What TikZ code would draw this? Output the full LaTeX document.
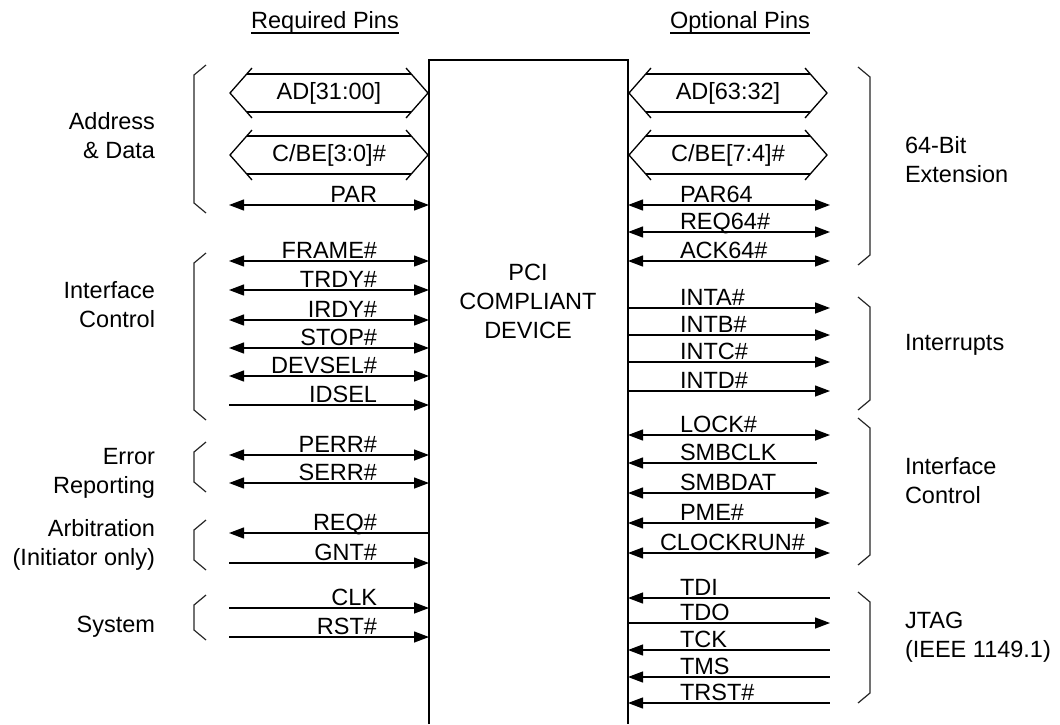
\documentclass[tikz,border=0pt]{standalone}
\usepackage{fontspec}
\setmainfont{Liberation Sans}
\usetikzlibrary{arrows.meta}
\tikzset{
  sig/.style={line width=0.65pt, draw=black},
  tipA/.tip={Triangle[length=7.5pt,width=5.5pt]},
  both/.style={sig, tipA-tipA},
  toR/.style={sig, -tipA},
  toL/.style={sig, tipA-},
  lbl/.style={inner sep=0pt, outer sep=0pt},
  grp/.style={inner sep=0pt, outer sep=0pt},
  brk/.style={line width=0.6pt, draw=black!85},
}
\newcommand\pcibus[5]{%
  \coordinate (#1a) at (#2,#4);
  \coordinate (#1b) at (#3,#4);
  \draw[sig] ([shift={(22,-25)}]#1a) -- (#1a) -- ([shift={(22,25)}]#1a);
  \draw[sig] ([shift={(-22,-25)}]#1b) -- (#1b) -- ([shift={(-22,25)}]#1b);
  \draw[sig] ([shift={(17,-19)}]#1a) -- ([shift={(-17,-19)}]#1b);
  \draw[sig] ([shift={(17,19)}]#1a) -- ([shift={(-17,19)}]#1b);
  \node[lbl] (#1t) at ({(#2+#3)/2},#4) {#5};
}
\newcommand\lbrk[3]{%
  \coordinate (#1t) at (206,#2);
  \coordinate (#1b) at (206,#3);
  \draw[brk] (#1t) -- ++(-12,10) -- ([shift={(-12,-10)}]#1b) -- (#1b);
}
\newcommand\rbrk[3]{%
  \coordinate (#1t) at (858,#2);
  \coordinate (#1b) at (858,#3);
  \draw[brk] (#1t) -- ++(12,10) -- ([shift={(12,-10)}]#1b) -- (#1b);
}
\begin{document}
\begin{tikzpicture}[x=0.5pt,y=-0.5pt,font=\fontsize{11.75pt}{14.3pt}\selectfont]
\useasboundingbox (0,0) rectangle (1060,724);
% headers
\node[lbl, anchor=base] (hreq) at (325,28) {Required Pins};
\draw[line width=0.75pt] ([yshift=-2.5pt]hreq.base west) -- ([yshift=-2.5pt]hreq.base east);
\node[lbl, anchor=base] (hopt) at (740,28) {Optional Pins};
\draw[line width=0.75pt] ([yshift=-2.5pt]hopt.base west) -- ([yshift=-2.5pt]hopt.base east);
% device box
\coordinate (bl) at (429,724);
\coordinate (tl) at (429,60);
\coordinate (tr) at (628,60);
\coordinate (br) at (628,724);
\draw[line width=0.65pt] (bl) -- (tl) -- (tr) -- (br);
\node[lbl, anchor=base, align=center] (dev) at (528,338) {PCI\\COMPLIANT\\DEVICE};
% buses
\pcibus{ad}{230}{428}{93}{AD[31:00]}
\pcibus{cbe}{230}{428}{155}{C/BE[3:0]\#}
\pcibus{adh}{629}{827}{93}{AD[63:32]}
\pcibus{cbeh}{629}{827}{155}{C/BE[7:4]\#}
% left signals
\foreach \n/\y/\t/\s in {PAR/205/PAR/both, FRAME/261/FRAME\#/both, TRDY/290/TRDY\#/both,
  IRDY/320/IRDY\#/both, STOP/348/STOP\#/both, DEVSEL/376/DEVSEL\#/both, IDSEL/405/IDSEL/toR,
  PERR/455/PERR\#/both, SERR/483/SERR\#/both, REQ/533/REQ\#/toL, GNT/563/GNT\#/toR,
  CLK/608/CLK/toR, RST/637/RST\#/toR}{
  \coordinate (La\n) at (229,\y);
  \coordinate (Lb\n) at (429,\y);
  \draw[\s] (La\n) -- (Lb\n);
  \node[lbl, anchor=base east] (tL\n) at (377,\y-3) {\t};
}
% right signals
\foreach \n/\y/\t/\s/\xe/\xl in {PARh/205/PAR64/both/830/680, REQh/232/REQ64\#/both/830/680,
  ACKh/261/ACK64\#/both/830/680, INTA/308/INTA\#/toR/830/680, INTB/335/INTB\#/toR/830/680,
  INTC/362/INTC\#/toR/830/680, INTD/391/INTD\#/toR/830/680, LOCK/435/LOCK\#/both/830/680,
  SMBCLK/463/SMBCLK/toL/817/680, SMBDAT/493/SMBDAT/both/830/680, PME/523/PME\#/both/830/680,
  CLKRUN/553/CLOCKRUN\#/both/830/660, TDI/598/TDI/toL/830/680, TDO/623/TDO/toR/830/680,
  TCK/650/TCK/toL/830/680, TMS/677/TMS/toL/830/680, TRST/703/TRST\#/toL/830/680}{
  \coordinate (Ra\n) at (628,\y);
  \coordinate (Rb\n) at (\xe,\y);
  \draw[\s] (Ra\n) -- (Rb\n);
  \node[lbl, anchor=base west] (tR\n) at (\xl,\y-3) {\t};
}
% brackets
\lbrk{b1}{65}{213}
\lbrk{b2}{253}{420}
\lbrk{b3}{442}{492}
\lbrk{b4}{520}{570}
\lbrk{b5}{595}{640}
\rbrk{r1}{67}{265}
\rbrk{r2}{297}{410}
\rbrk{r3}{418}{565}
\rbrk{r4}{592}{703}
% group labels (anchor at baseline of last line)
\node[grp, anchor=base east, align=right] (gAD) at (155,158) {Address\\\& Data};
\node[grp, anchor=base east, align=right] (gIC) at (155,327) {Interface\\Control};
\node[grp, anchor=base east, align=right] (gER) at (155,493) {Error\\Reporting};
\node[grp, anchor=base east, align=right] (gAR) at (155,565) {Arbitration\\(Initiator only)};
\node[grp, anchor=base east, align=right] (gSY) at (155,632) {System};
\node[grp, anchor=base west, align=left] (g64) at (905,182) {64-Bit\\Extension};
\node[grp, anchor=base west, align=left] (gIN) at (905,350) {Interrupts};
\node[grp, anchor=base west, align=left] (gIC2) at (905,503) {Interface\\Control};
\node[grp, anchor=base west, align=left] (gJT) at (905,657) {JTAG\\(IEEE 1149.1)};
\end{tikzpicture}
\end{document}
